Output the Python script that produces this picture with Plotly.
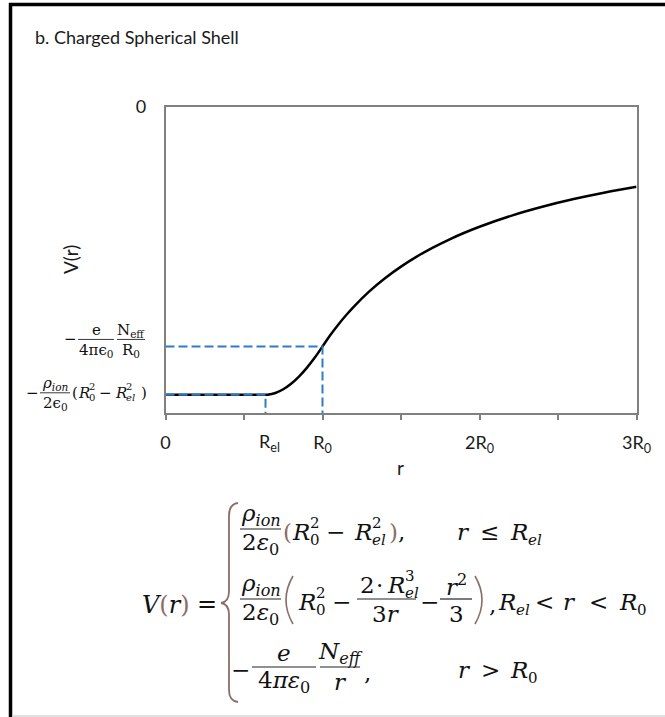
import plotly.graph_objects as go

W, H = 665, 717

# ---------------- data (r in units of R0, V in units of e*N_eff/(4*pi*eps0*R0)) ----------------
R_EL = 0.637
V_FLAT = -1.202
V_R0 = -1.0
Y_MIN = -1.278
X_MAX = 3.0

r_curve = [0.0, 0.637, 0.65, 0.70, 0.75, 0.80, 0.85, 0.90, 0.95, 1.00, 1.05, 1.10, 1.15, 1.20,
           1.30, 1.40, 1.50, 1.60, 1.70, 1.80, 1.90, 2.00, 2.20, 2.40, 2.60, 2.80, 3.00]
v_curve = [-1.202, -1.202, -1.2018, -1.1945, -1.1789, -1.1557, -1.1257, -1.0894, -1.0475, -1.000,
           -0.9524, -0.9091, -0.8696, -0.8333, -0.7692, -0.7143, -0.6667, -0.625, -0.5882, -0.5556,
           -0.5263, -0.5, -0.4545, -0.4167, -0.3846, -0.3571, -0.3333]

x_tickvals = [0, 0.5, 1, 1.5, 2, 2.5, 3]
x_ticktext = ['0', '', 'R<sub>0</sub>', '', '2R<sub>0</sub>', '', '3R<sub>0</sub>']
y_tickvals = [0]
y_ticktext = ['0']

# ---------------- geometry helpers ----------------
PL, PR, PT, PB = 165.5, 636.5, 107, 413
MATH = 'DejaVu Serif'
SANS = 'Lato'
BROWN = '#8b6d67'
INK = '#111111'


def fx(x):
    return x / W


def fy(y):
    return 1 - y / H


def ypix(v):
    return PT + (0 - v) / (0 - Y_MIN) * (PB - PT)


ann = []
shp = []


def txt(s, x, y, size=23, color=INK, xa='left', fam=MATH, angle=0):
    ann.append(dict(text=s, x=fx(x), y=fy(y), xref='paper', yref='paper', xanchor=xa,
                    yanchor='middle', showarrow=False, textangle=angle, borderpad=0,
                    font=dict(family=fam, size=size, color=color)))


def hline(x0, x1, y, w=1.2, color='#222222'):
    shp.append(dict(type='line', xref='paper', yref='paper', x0=fx(x0), x1=fx(x1),
                    y0=fy(y), y1=fy(y), line=dict(color=color, width=w)))


def vline(x, y0, y1, w=1.2, color='#222222'):
    shp.append(dict(type='line', xref='paper', yref='paper', x0=fx(x), x1=fx(x),
                    y0=fy(y0), y1=fy(y1), line=dict(color=color, width=w)))


def path(cmds, color=BROWN, w=1.7):
    parts = []
    for c in cmds:
        op = c[0]
        pts = ' '.join('%.5f,%.5f' % (fx(p[0]), fy(p[1])) for p in c[1:])
        parts.append(op + ' ' + pts)
    shp.append(dict(type='path', xref='paper', yref='paper', path=' '.join(parts),
                    line=dict(color=color, width=w)))


def frac(num, den, x0, x1, ybar, size=23, dn=14, dd=15, lw=1.2, fam=MATH):
    cx = (x0 + x1) / 2
    txt(num, cx, ybar - dn, size, xa='center', fam=fam)
    txt(den, cx, ybar + dd, size, xa='center', fam=fam)
    hline(x0, x1, ybar, lw)


def Rss(x, y, sup, sub, size=23, ssize=15, w=18, dup=9, ddn=8, italic_sub=False, base='R'):
    txt('<i>' + base + '</i>', x, y, size)
    if sup:
        txt(sup, x + w, y - dup, ssize)
    if sub:
        txt(('<i>' + sub + '</i>') if italic_sub else sub, x + w, y + ddn, ssize)


# ---------------- figure ----------------
fig = go.Figure()
fig.add_trace(go.Scatter(x=r_curve, y=v_curve, mode='lines', line=dict(color='black', width=2.5),
                         line_shape='spline', hoverinfo='skip'))
fig.add_trace(go.Scatter(x=[0, R_EL, R_EL], y=[V_FLAT, V_FLAT, Y_MIN], mode='lines',
                         line=dict(color='#2E7DC2', width=2, dash='9px,4px'), hoverinfo='skip'))
fig.add_trace(go.Scatter(x=[0, 1, 1], y=[V_R0, V_R0, Y_MIN], mode='lines',
                         line=dict(color='#2E7DC2', width=2, dash='9px,4px'), hoverinfo='skip'))

# title & axis titles
txt('b. Charged Spherical Shell', 34, 37, 18, color='#1a1a1a', fam=SANS)
txt('V(r)', 70, 260, 19, color='#1a1a1a', xa='center', fam=SANS, angle=-90)
txt('r', 401, 467, 19, color='#1a1a1a', xa='center', fam=SANS)
ann.append(dict(text='R<sub>el</sub>', x=R_EL, xref='x', xshift=4, y=fy(442), yref='paper',
                xanchor='center', yanchor='middle', showarrow=False, borderpad=0,
                font=dict(family=SANS, size=18, color='#1a1a1a')))

# y tick labels as typeset fractions
bA = ypix(V_R0) - 7
txt('−', 63, bA, 15)
frac('e', '4πϵ<sub>0</sub>', 78, 114, bA, 15, dn=9, dd=11, lw=0.9)
frac('N<sub>eff</sub>', 'R<sub>0</sub>', 117, 145, bA, 15, dn=9, dd=11, lw=0.9)

bB = ypix(V_FLAT) - 2
txt('−', 25, bB, 15)
frac('<i>ρ</i><sub><i>ion</i></sub>', '2ϵ<sub>0</sub>', 40, 70, bB, 15, dn=9, dd=11, lw=0.9)
txt('(', 71, bB, 15)
Rss(77, bB, '2', '0', 15, 10, w=11, dup=6, ddn=5)
txt('−', 98, bB, 15)
Rss(114, bB, '2', 'el', 15, 10, w=11, dup=6, ddn=5, italic_sub=True)
txt(')', 140, bB, 15)

# ---------------- equation ----------------
txt("<i>V</i><span style='color:%s'>(</span><i>r</i><span style='color:%s'>)</span>" % (BROWN, BROWN),
    141, 605, 24)
txt('=', 196, 604, 24)
path([('M', (238, 503)), ('Q', (229, 504), (229, 516)), ('L', (229, 591)),
      ('Q', (229, 602), (221, 603)), ('Q', (229, 604), (229, 615)), ('L', (229, 690)),
      ('Q', (229, 701), (238, 702))], w=1.8)

RHO = '<i>ρ</i><sub><i>ion</i></sub>'
EPS2 = '2<i>ε</i><sub>0</sub>'

# row 1
b1 = 529
y1 = b1 + 3
frac(RHO, EPS2, 240, 281, b1)
txt("<span style='color:%s'>(</span>" % BROWN, 282, y1, 23)
Rss(291, y1, '2', '0')
txt('−', 325, y1, 23)
Rss(353, y1, '2', 'el', italic_sub=True)
txt("<span style='color:%s'>)</span>," % BROWN, 388, y1, 23)
txt('<i>r</i>', 456, y1, 23)
txt('≤', 479, y1, 23)
Rss(509, y1, None, 'el', italic_sub=True)

# row 2
b2 = 599
y2 = b2 + 3
frac(RHO, EPS2, 240, 281, b2)
path([('M', (293, 576)), ('Q', (279, 600), (293, 624))], w=1.6)
Rss(297, y2, '2', '0')
txt('−', 331, y2, 23)
txt('2', 359, b2 - 14, 23)
txt('·', 375, b2 - 14, 23)
Rss(386, b2 - 14, '3', 'el', italic_sub=True)
txt('3<i>r</i>', 386, b2 + 15, 23, xa='center')
hline(357, 416, b2)
txt('−', 419, y2, 23)
frac('<i>r</i><sup>2</sup>', '3', 440, 472, b2)
path([('M', (475, 576)), ('Q', (489, 600), (475, 624))], w=1.6)
txt(',', 488, y2 + 3, 23)
Rss(497, y2, None, 'el', italic_sub=True)
txt('<', 534, y2, 23)
txt('<i>r</i>', 562, y2, 23)
txt('<', 588, y2, 23)
Rss(618, y2, None, '0')

# row 3
b3 = 667
y3 = b3 + 3
txt('−', 230, y3, 23)
frac('<i>e</i>', '4<i>πε</i><sub>0</sub>', 252, 316, b3)
frac('<i>N</i><sub><i>eff</i></sub>', '<i>r</i>', 320, 360, b3)
txt(',', 363, y3 + 3, 23)
txt('<i>r</i>', 457, y3, 23)
txt('>', 480, y3, 23)
Rss(509, y3, None, '0')

# frame of the panel
vline(10.5, 3, 717, w=3.5, color='black')
hline(9, 665, 4.5, w=3.5, color='black')
hline(12, 665, 716, w=1.5, color='#d4d4d4')

fig.update_layout(
    width=W, height=H, margin=dict(l=0, r=0, t=0, b=0, autoexpand=False),
    paper_bgcolor='white', plot_bgcolor='white', showlegend=False,
    annotations=ann, shapes=shp,
    xaxis=dict(domain=[PL / W, PR / W], range=[0, X_MAX], tickvals=x_tickvals, ticktext=x_ticktext,
               ticks='outside', ticklen=5, tickwidth=1.5, tickcolor='#808080', automargin=False,
               showline=True, mirror=True, linecolor='#808080', linewidth=1.5,
               showgrid=False, zeroline=False, ticklabelstandoff=8,
               tickfont=dict(family=SANS, size=18, color='#1a1a1a')),
    yaxis=dict(domain=[1 - PB / H, 1 - PT / H], range=[Y_MIN, 0], tickvals=y_tickvals, ticktext=y_ticktext,
               ticks='', showline=True, mirror=True, linecolor='#808080', linewidth=1.5, automargin=False,
               showgrid=False, zeroline=False, ticklabelstandoff=14,
               tickfont=dict(family=SANS, size=18, color='#1a1a1a')),
)

fig.write_html('out.html')
